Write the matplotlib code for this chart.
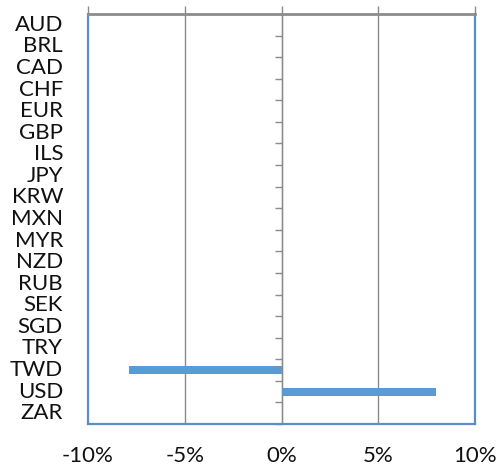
import matplotlib
matplotlib.use("Agg")
import matplotlib.pyplot as plt
from matplotlib.ticker import FuncFormatter
import numpy as np

currencies = ["AUD", "BRL", "CAD", "CHF", "EUR", "GBP", "ILS", "JPY", "KRW",
              "MXN", "MYR", "NZD", "RUB", "SEK", "SGD", "TRY", "TWD", "USD", "ZAR"]
changes = [0, 0, 0, 0, 0, 0, 0, 0, 0, 0, 0, 0, 0, 0, 0, 0, -7.9, 8.0, 0]
x_ticks = [-10, -5, 0, 5, 10]

plt.rcParams["font.family"] = ["Lato", "DejaVu Sans"]

fig = plt.figure(figsize=(4.97, 4.67), dpi=100)
ax = fig.add_axes([88 / 497, 43 / 467, 387 / 497, 410 / 467])

bar_color = "#5B9BD5"
border_blue = "#5B8CCB"
axis_gray = "#8C8C8C"

pos = np.arange(len(currencies))
ax.barh(pos, changes, height=0.38, color=bar_color, zorder=3)

ax.set_xlim(-10, 10)
ax.set_ylim(len(currencies) - 0.5, -0.5)

# vertical gridlines
for xv in x_ticks[1:]:
    ax.axvline(xv, color="#8A8A8A", lw=1.0, zorder=1)

# value axis: line on top with outward ticks, labels at the bottom
ax.set_xticks(x_ticks)
ax.xaxis.set_major_formatter(FuncFormatter(lambda v, p: f"{v:.0f}%"))
ax.tick_params(axis="x", top=True, bottom=False, labeltop=False,
               labelbottom=True, length=5.8, width=1.0, color=axis_gray,
               pad=10, labelsize=16, labelcolor="#111111")

# category labels on the left
ax.set_yticks(pos)
ax.set_yticklabels(currencies)
ax.tick_params(axis="y", length=0, pad=18, labelsize=16, labelcolor="#111111")
for lab in ax.get_yticklabels():
    lab.set_verticalalignment("center")

for side in ("left", "right", "bottom"):
    ax.spines[side].set_color(border_blue)
    ax.spines[side].set_linewidth(1.6)
ax.spines["top"].set_color(axis_gray)
ax.spines["top"].set_linewidth(2.0)

# category axis crossing at zero, ticks between categories pointing left
secax = ax.secondary_yaxis(0.5)
secax.set_yticks(np.arange(len(currencies) + 1) - 0.5)
secax.set_yticklabels([])
secax.tick_params(axis="y", length=5, width=1.0, color=axis_gray, direction="in")
secax.spines["left"].set_color(axis_gray)
secax.spines["left"].set_linewidth(1.6)

fig.savefig("out.png", dpi=100)
